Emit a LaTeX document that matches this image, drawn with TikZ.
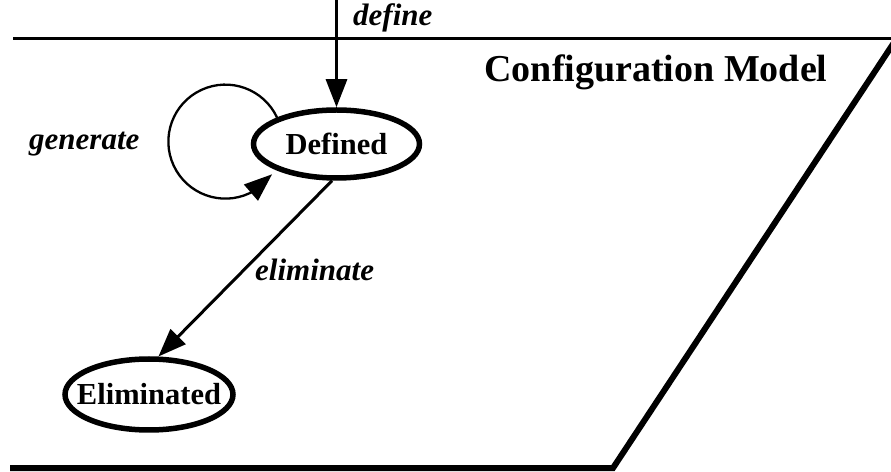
\documentclass[tikz,border=0pt]{standalone}
\usepackage{fontspec}
\setmainfont{Liberation Serif}
\usetikzlibrary{shapes.geometric, arrows.meta, bending}
\tikzstyle{st}=[ellipse, draw, line width = 5.5pt, inner xsep = -40pt, inner ysep = 0pt, font = \fontsize{30.5}{36}\selectfont\bfseries]
\tikzstyle{lab}=[inner sep = 0pt, anchor = base west, font = \fontsize{31}{36}\selectfont\bfseries\itshape]
\tikzstyle{tr}=[line width = 3pt, -{Triangle[length = 28pt, width = 21pt]}]

\begin{document}
\begin{tikzpicture}[x = 1pt, y = 1pt]
\useasboundingbox (0,0) rectangle (891,471);
%\draw (0,0) rectangle (891,471);
\draw [line width = 3.5pt] (13, 432.5) to (897, 432.5);
\draw [line width = 6pt] (10, 3) to (613, 3) to (897, 433);
\node (title) at (656, 389) [inner sep = 0pt, anchor = base, font = \fontsize{38}{44}\selectfont\bfseries] {Configuration Model};
%%%%%%%%%%%%%%%%%%%%%%%
\node (def) at (336.5, 327) [st, minimum width = 166pt, minimum height = 68pt] {Defined};
\node (elim) at (149, 76.5) [st, minimum width = 168pt, minimum height = 71pt] {Eliminated};
\coordinate (top) at (336.5, 471);
%%%%%%%%%%%%%%%%%%%%%%%
\draw [tr] (top) to (def);
\draw [tr, line width = 2.3pt] (def.156) arc [start angle = 25, end angle = 325, radius = 57];
\draw [tr] (def.-97) to (elim.76);
\node (dlab) at (353, 445) [lab] {define};
\node (glab) at (29, 321) [lab] {generate};
\node (elab) at (255, 190) [lab] {eliminate};
\end{tikzpicture}
\end{document}
